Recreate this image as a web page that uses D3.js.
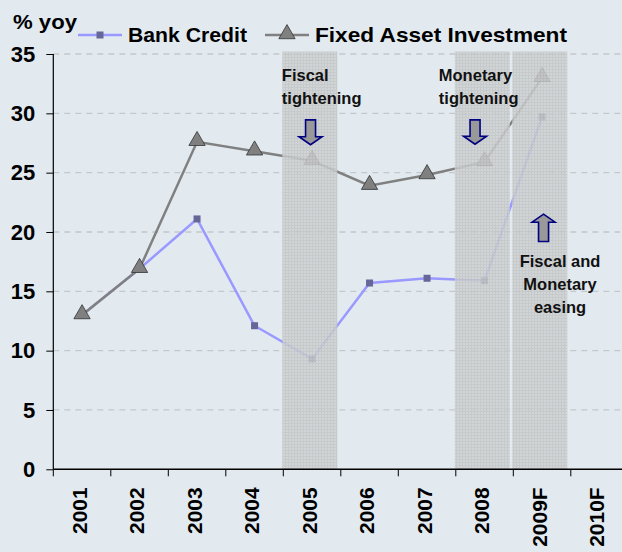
<!DOCTYPE html>
<html>
<head>
<meta charset="utf-8">
<script src="https://cdn.jsdelivr.net/npm/d3@7"></script>
<style>
  html, body { margin: 0; padding: 0; background: #e2eaf0; }
  svg { display: block; font-family: "Liberation Sans", Arial, sans-serif; font-weight: bold; }
</style>
</head>
<body>
<div id="chart"></div>
<script>
// --- data ---
const categories = ["2001", "2002", "2003", "2004", "2005", "2006", "2007", "2008", "2009F", "2010F"];
const bankCredit = [13.0, 16.9, 21.1, 12.1, 9.3, 15.7, 16.1, 15.9, 29.7, null];
const fixedAsset = [13.0, 16.9, 27.6, 26.8, 26.0, 23.9, 24.8, 25.9, 33.0, null];
const yTicks = [0, 5, 10, 15, 20, 25, 30, 35];
const shadedYears = ["2005", "2008", "2009F"];

const width = 622, height = 552;
const x0 = 53.3, plotTop = 54, plotBottom = 469.3;

const svg = d3.select("#chart").append("svg")
    .attr("width", width)
    .attr("height", height);

svg.append("rect").attr("width", width).attr("height", height).attr("fill", "#e2eaf0");

const x = d3.scaleBand().domain(categories).range([x0, x0 + 57.5 * categories.length]).padding(0);
const y = d3.scaleLinear().domain([0, 35]).range([plotBottom, plotTop]);
const cx = d => x(d) + x.bandwidth() / 2;

// hatch pattern for shaded periods
const defs = svg.append("defs");
const pat = defs.append("pattern")
    .attr("id", "hatch")
    .attr("patternUnits", "userSpaceOnUse")
    .attr("width", 3).attr("height", 3);
pat.append("rect").attr("width", 3).attr("height", 3).attr("fill", "#cfd1d2");
pat.append("path").attr("d", "M0,0.5H3M0.5,0V3").attr("stroke", "#c2c4c5").attr("stroke-width", 1);

// grid lines
svg.append("g").selectAll("line")
    .data(yTicks.filter(t => t > 0))
    .join("line")
    .attr("x1", x0).attr("x2", width)
    .attr("y1", d => y(d)).attr("y2", d => y(d))
    .attr("stroke", "#c4c8cb")
    .attr("stroke-width", 1.3)
    .attr("stroke-dasharray", "6,5");

// lines
const line = d3.line()
    .defined(d => d.v != null)
    .x(d => cx(d.c))
    .y(d => y(d.v));

const faiData = categories.map((c, i) => ({ c, v: fixedAsset[i] }));
const bcData = categories.map((c, i) => ({ c, v: bankCredit[i] }));

svg.append("path").datum(bcData)
    .attr("fill", "none").attr("stroke", "#9999ff").attr("stroke-width", 2.5)
    .attr("d", line);

svg.append("path").datum(faiData)
    .attr("fill", "none").attr("stroke", "#808080").attr("stroke-width", 2.5)
    .attr("d", line);

const tri = d3.symbol().type(d3.symbolTriangle).size(115);

svg.append("g").selectAll("rect")
    .data(bcData.filter(d => d.v != null))
    .join("rect")
    .attr("x", d => cx(d.c) - 3.5).attr("y", d => y(d.v) - 3.5)
    .attr("width", 7).attr("height", 7)
    .attr("fill", "#666699");

svg.append("g").selectAll("path")
    .data(faiData.filter(d => d.v != null))
    .join("path")
    .attr("transform", d => `translate(${cx(d.c)},${y(d.v) - 1})`)
    .attr("d", tri)
    .attr("fill", "#808080")
    .attr("stroke", "#333333")
    .attr("stroke-width", 0.8);

// shaded periods drawn over the lines
svg.append("g").selectAll("rect")
    .data(shadedYears)
    .join("rect")
    .attr("x", d => x(d) - 1)
    .attr("y", plotTop - 2.5)
    .attr("width", x.bandwidth() - 2.5)
    .attr("height", plotBottom - plotTop + 2.5)
    .attr("fill", "url(#hatch)")
    .attr("opacity", 0.85);

// axes
const yAxis = svg.append("g").attr("transform", `translate(${x0},0)`)
    .call(d3.axisLeft(y).tickValues(yTicks).tickSize(7).tickPadding(11));
yAxis.select(".domain").attr("stroke", "#000").attr("stroke-width", 1.2).attr("d", `M0,${plotTop}V${plotBottom}`);
yAxis.selectAll(".tick line").attr("stroke", "#000");
yAxis.selectAll("text").attr("font-size", 22).attr("font-weight", "bold")
    .attr("font-family", "Liberation Sans, Arial, sans-serif").attr("fill", "#000");

const xAxis = svg.append("g").attr("transform", `translate(0,${plotBottom})`);
xAxis.append("line").attr("x1", x0).attr("x2", width).attr("stroke", "#000").attr("stroke-width", 1.5);
xAxis.selectAll(".xt")
    .data(categories)
    .join("line")
    .attr("x1", d => x(d)).attr("x2", d => x(d))
    .attr("y1", 0).attr("y2", 7)
    .attr("stroke", "#000");
xAxis.selectAll(".xl")
    .data(categories)
    .join("text")
    .attr("transform", d => `translate(${cx(d) - 3},18) rotate(-90)`)
    .attr("text-anchor", "end")
    .attr("dy", "0.36em")
    .attr("font-size", 21)
    .attr("fill", "#000")
    .text(d => d);

// y axis title
svg.append("text").attr("x", 13).attr("y", 29).attr("font-size", 21)
    .attr("textLength", 64).attr("lengthAdjust", "spacingAndGlyphs")
    .attr("fill", "#000").text("% yoy");

// legend
const legend = svg.append("g");
legend.append("line").attr("x1", 78).attr("x2", 122).attr("y1", 35).attr("y2", 35)
    .attr("stroke", "#9999ff").attr("stroke-width", 2.5);
legend.append("rect").attr("x", 96.5).attr("y", 31.5).attr("width", 7).attr("height", 7).attr("fill", "#666699");
legend.append("text").attr("x", 128).attr("y", 42).attr("font-size", 21)
    .attr("textLength", 119).attr("lengthAdjust", "spacingAndGlyphs")
    .attr("fill", "#000").text("Bank Credit");

legend.append("line").attr("x1", 265).attr("x2", 309).attr("y1", 35).attr("y2", 35)
    .attr("stroke", "#808080").attr("stroke-width", 2.5);
legend.append("path").attr("transform", "translate(287,34)").attr("d", tri)
    .attr("fill", "#808080").attr("stroke", "#333333").attr("stroke-width", 0.8);
legend.append("text").attr("x", 315).attr("y", 42).attr("font-size", 21)
    .attr("textLength", 252).attr("lengthAdjust", "spacingAndGlyphs")
    .attr("fill", "#000").text("Fixed Asset Investment");

// annotations
function note(lines, tx, ty, anchor) {
    const t = svg.append("text").attr("font-size", 16.5).attr("fill", "#111").attr("text-anchor", anchor);
    lines.forEach((s, i) => t.append("tspan").attr("x", tx).attr("y", ty + i * 23).text(s));
}
note(["Fiscal", "tightening"], x("2005") - 1.5, 81, "start");
note(["Monetary", "tightening"], x("2008") - 17, 81, "start");
note(["Fiscal and", "Monetary", "easing"], cx("2009F") + 18, 267, "middle");

// block arrows
function arrow(xc, yTail, yTip) {
    const dir = yTip > yTail ? 1 : -1;
    const headLen = 8, bw = 5, hw = 11.5;
    const yb = yTip - dir * headLen;
    const pts = [
        [xc - bw, yTail], [xc + bw, yTail], [xc + bw, yb], [xc + hw, yb],
        [xc, yTip], [xc - hw, yb], [xc - bw, yb]
    ];
    svg.append("path")
        .attr("d", d3.line()(pts) + "Z")
        .attr("fill", "#999999")
        .attr("stroke", "#000080")
        .attr("stroke-width", 1.6);
}
arrow(cx("2005") - 1.5, y(29.45), y(27.35));
arrow(cx("2008") - 9.5, y(29.45), y(27.4));
arrow(cx("2009F") + 1.5, y(19.2), y(21.5));
</script>
</body>
</html>
